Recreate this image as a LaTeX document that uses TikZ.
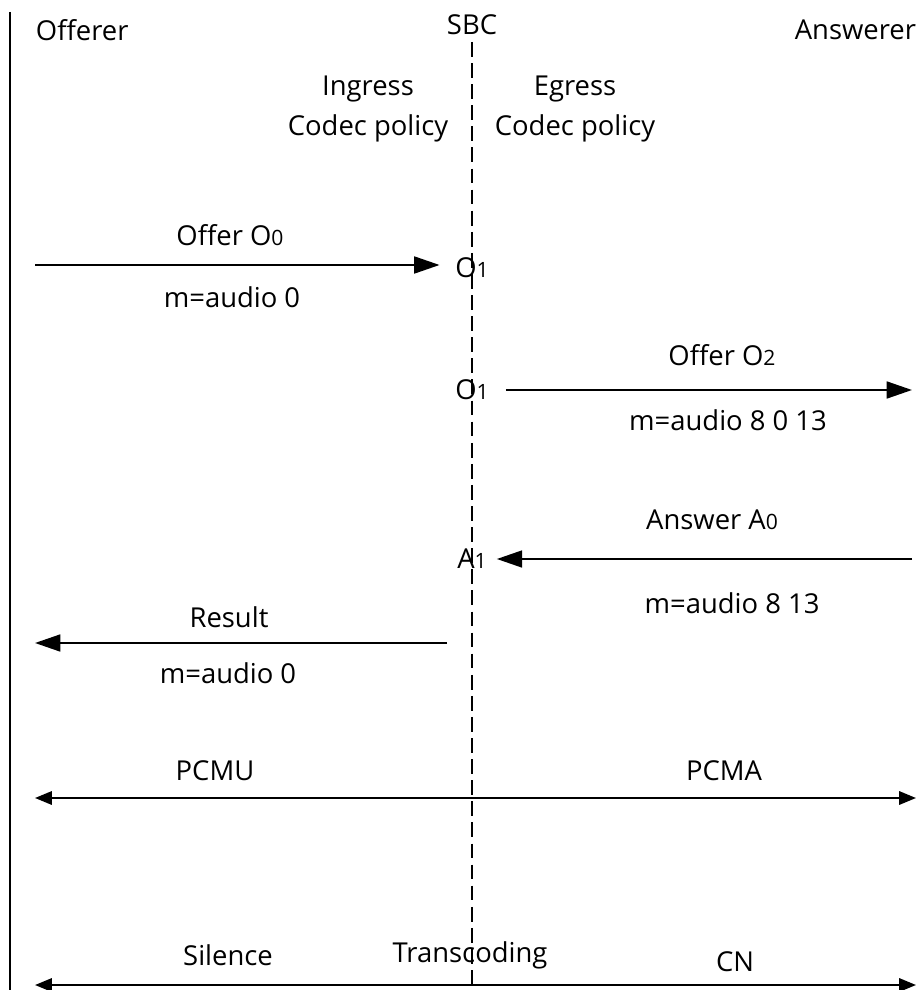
\documentclass[tikz,border=0pt]{standalone}
\usepackage{fontspec}
\setmainfont{Open Sans}
\usepackage{tikz}
\usetikzlibrary{arrows.meta,positioning}

\newcommand{\idx}[1]{{\fontsize{15}{15}\selectfont #1}}

\tikzset{
    msg/.style={line width=1.5pt, -{Triangle[length=18pt,width=12pt]}},
    media/.style={line width=1.5pt, {Triangle[length=12pt,width=9.5pt]}-{Triangle[length=12pt,width=9.5pt]}},
}

\begin{document}
\begin{tikzpicture}[x=0.025cm, y=-0.025cm, every node/.style={font=\fontsize{19.5}{28}\selectfont}]
    \useasboundingbox (0,0) rectangle (922,990);

    % Endpoints
    \node[anchor=west] (offerer) at (31,30) {Offerer};
    \node (sbc) at (472,25) {SBC};
    \node[anchor=east] (answerer) at (921,30) {Answerer};
    \draw[line width=1.8pt] (10,12) -- (10,990);

    % Codec policies
    \node[align=center] (ingress) at (368,109) {Ingress\\Codec policy};
    \node[align=center] (egress) at (575,109) {Egress\\Codec policy};

    % Offer towards SBC
    \coordinate (offL) at (35,265);
    \node[inner xsep=11pt, inner ysep=0pt] (o1a) at (472,268) {O\idx{1}};
    \draw[msg] (offL) -- (offL -| o1a.west);
    \node (offer0) at (230,235) {Offer O\idx{0}};
    \node (sdp0) at (232,297) {m=audio 0};

    % Offer towards answerer
    \node[inner xsep=12pt, inner ysep=0pt] (o1b) at (472,390) {O\idx{1}};
    \coordinate (offR) at (912,390);
    \draw[msg] (o1b.east |- offR) -- (offR);
    \node (offer2) at (722,355) {Offer O\idx{2}};
    \node (sdp2) at (728,420) {m=audio 8 0 13};

    % Answer
    \node[inner xsep=7pt, inner ysep=0pt] (a1) at (472,559) {A\idx{1}};
    \coordinate (ansR) at (912,559);
    \draw[msg] (ansR) -- (ansR -| a1.east);
    \node (answer0) at (712,520) {Answer A\idx{0}};
    \node (sdpa) at (732,603) {m=audio 8 13};

    % Result
    \coordinate (resR) at (447,643);
    \coordinate (resL) at (35,643);
    \draw[msg] (resR) -- (resL);
    \node (result) at (229,617) {Result};
    \node (sdpr) at (228,673) {m=audio 0};

    % Media
    \coordinate (pcmL) at (35,798);
    \coordinate (pcmR) at (916,798);
    \draw[media] (pcmL) -- (pcmR);
    \node (pcmu) at (215,771) {PCMU};
    \node (pcma) at (724,771) {PCMA};

    \coordinate (cnL) at (35,985);
    \coordinate (cnR) at (916,985);
    \draw[media] (cnL) -- (cnR);
    \node (silence) at (228,955) {Silence};
    \node (transc) at (470,955) {Transcoding};
    \node (cn) at (735,962) {CN};

    % SBC line
    \draw[line width=1.5pt, dash pattern=on 10.5pt off 4.5pt] (472,42) -- (472,990);
\end{tikzpicture}
\end{document}
